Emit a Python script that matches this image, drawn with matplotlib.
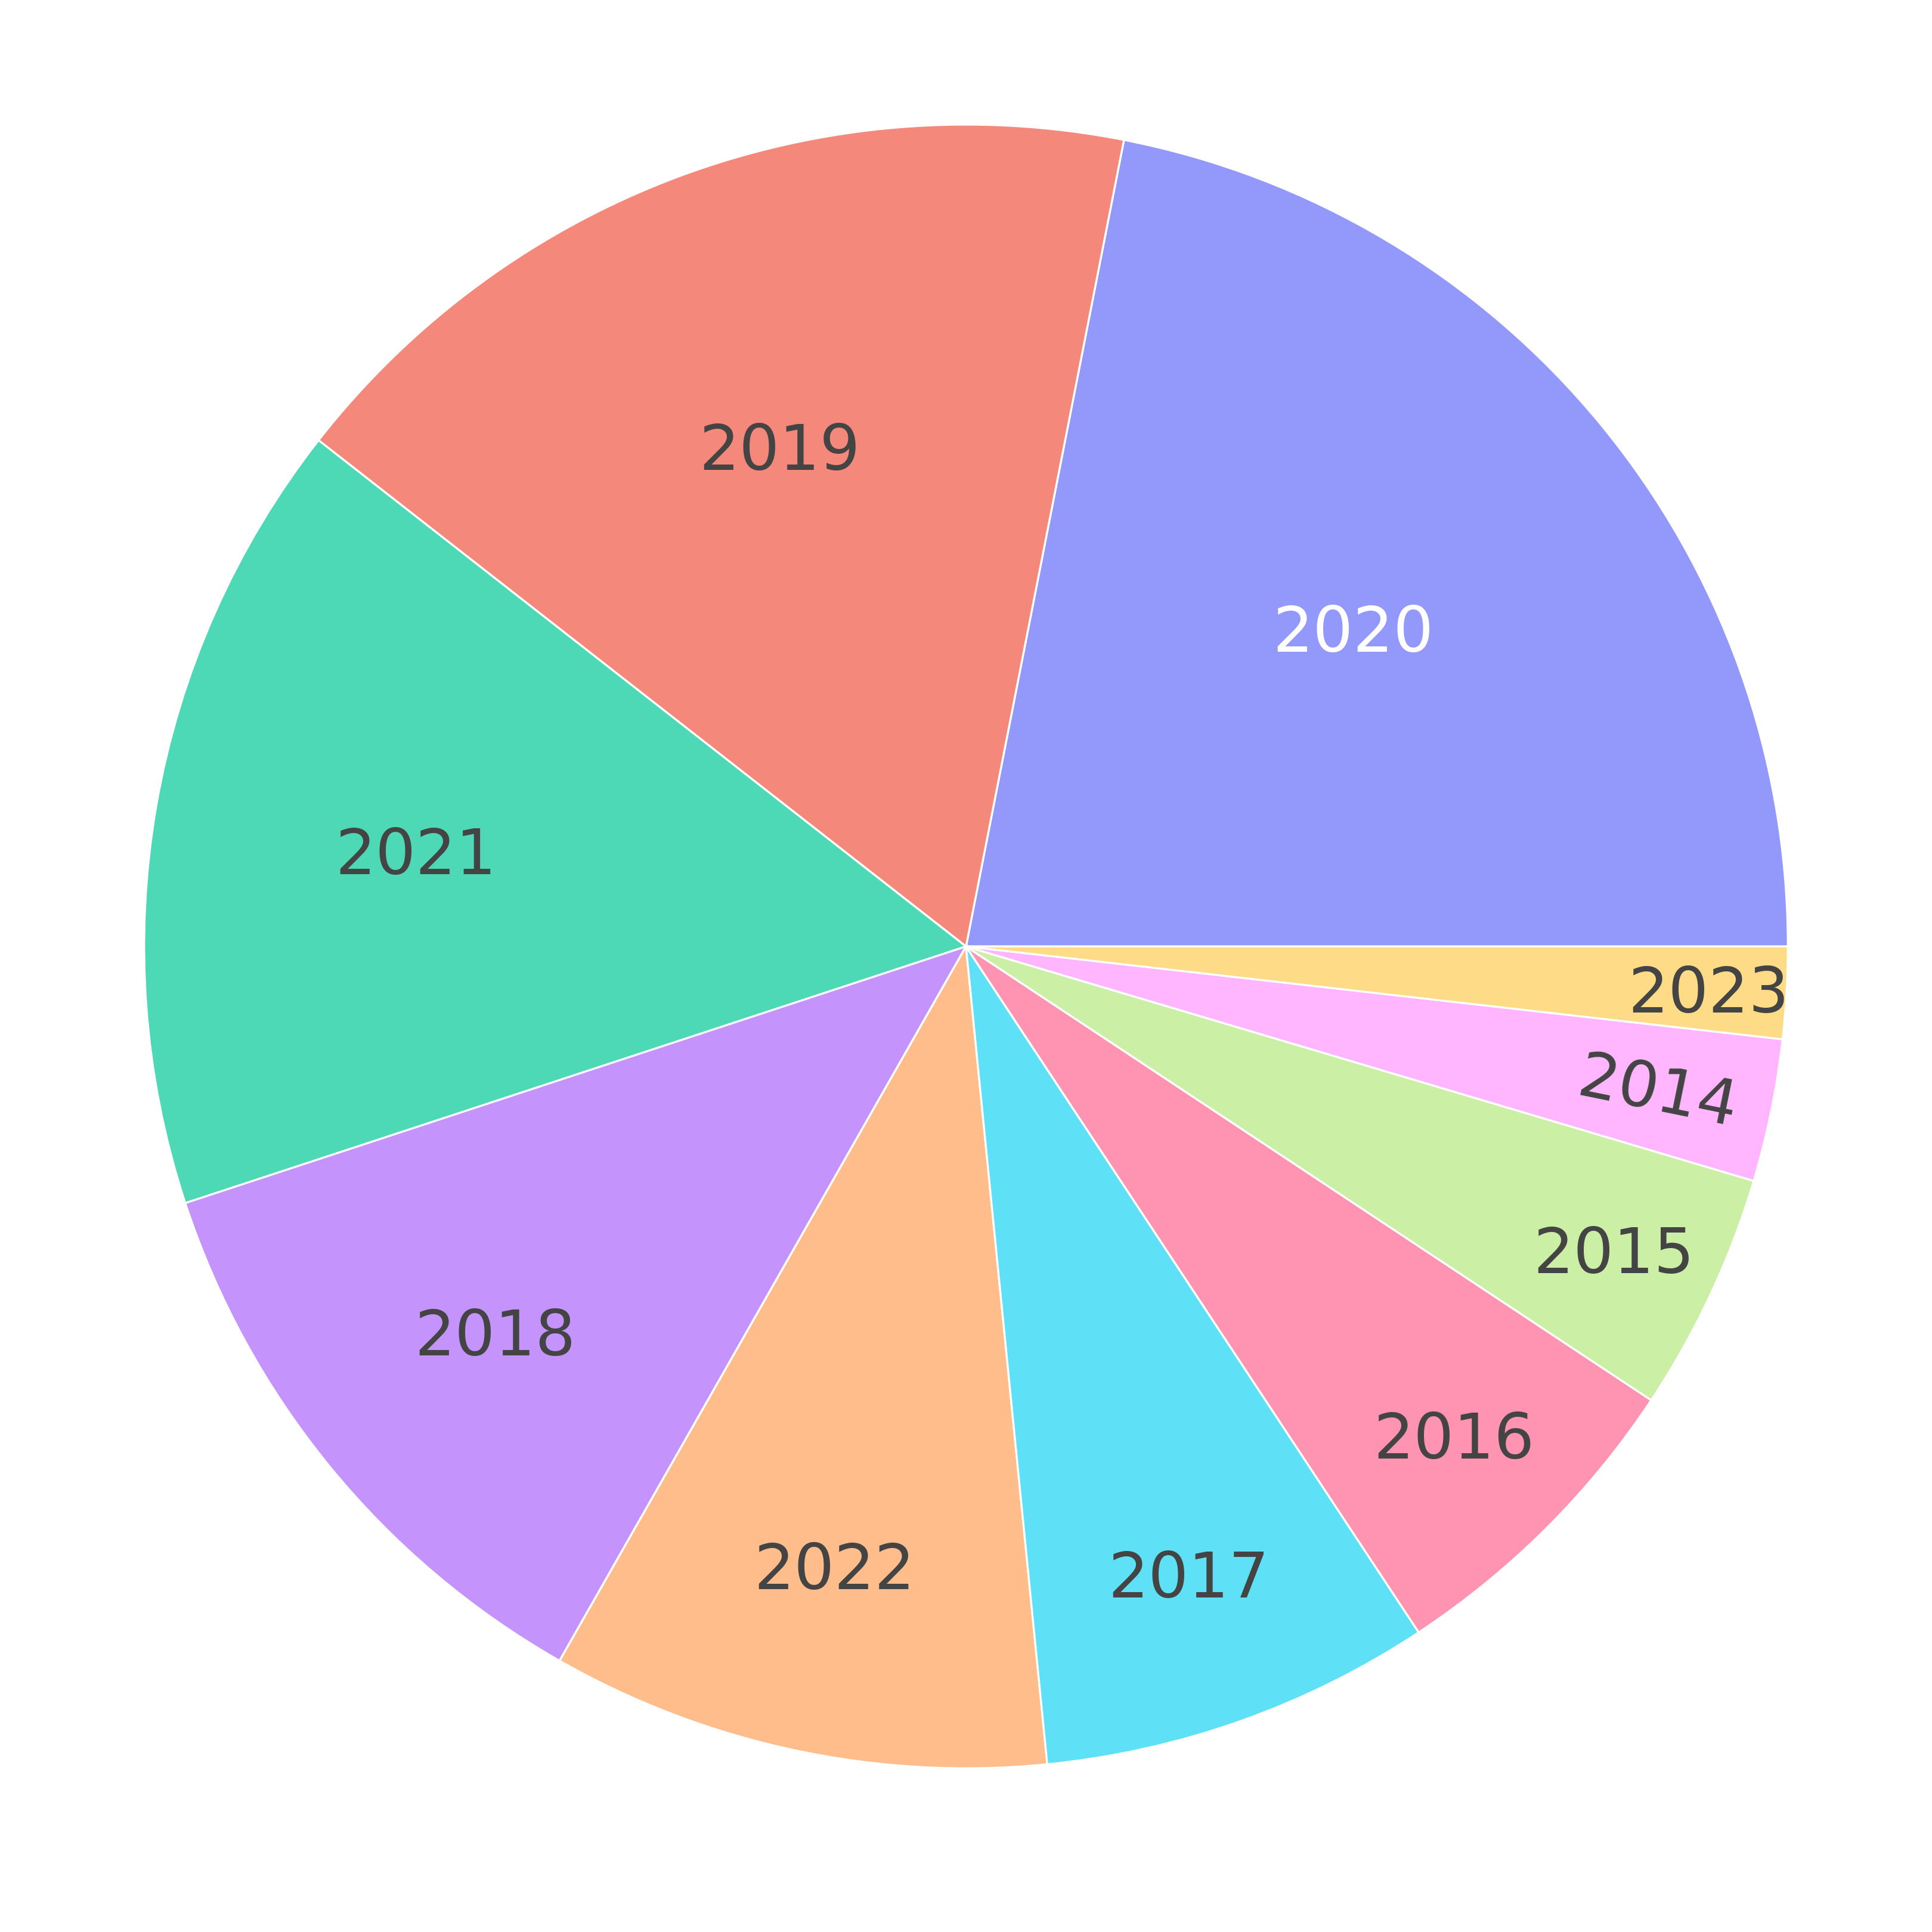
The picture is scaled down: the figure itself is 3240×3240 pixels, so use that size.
import matplotlib
matplotlib.use('Agg')
import numpy as np
import matplotlib.pyplot as plt

# slice values (share in %)
years = ['2020', '2019', '2021', '2018', '2022', '2017', '2016', '2015', '2014', '2023']
shares = [21.9, 17.5, 15.6, 11.7, 9.8, 7.7, 6.4, 4.7, 2.8, 1.8]
colors = ['#9299FB', '#F4887A', '#4DD9B5', '#C493FB', '#FFBD8B',
          '#5EE0F7', '#FF94B2', '#CCEFA6', '#FFB6FF', '#FEDB86']
text_colors = ['white'] + ['#444444'] * 9
# how far out (fraction of radius) each label sits
label_r = [0.61, 0.65, 0.68, 0.74, 0.77, 0.81, 0.84, 0.87, 0.86, 0.905]

fig = plt.figure(figsize=(10.8, 10.8), dpi=300)
ax = fig.add_axes([0, 0, 1, 1])

wedges, _ = ax.pie(shares, colors=colors, startangle=0, counterclock=True,
                   radius=1, wedgeprops=dict(edgecolor='white', linewidth=0.8))

for i, w in enumerate(wedges):
    mid = np.deg2rad((w.theta1 + w.theta2) / 2)
    x = label_r[i] * np.cos(mid)
    y = label_r[i] * np.sin(mid)
    rot = 0
    if years[i] == '2014':
        rot = np.rad2deg(mid) - 360
    ax.text(x, y, years[i], ha='center', va='center_baseline', fontsize=25.5,
            color=text_colors[i], rotation=rot, rotation_mode='anchor',
            family='DejaVu Sans')

ax.set_xlim(-1.1754, 1.1754)
ax.set_ylim(-1.199, 1.1514)
ax.set_aspect('equal')
ax.axis('off')

plt.savefig('out.png', dpi=300, facecolor='white')
plt.close()
